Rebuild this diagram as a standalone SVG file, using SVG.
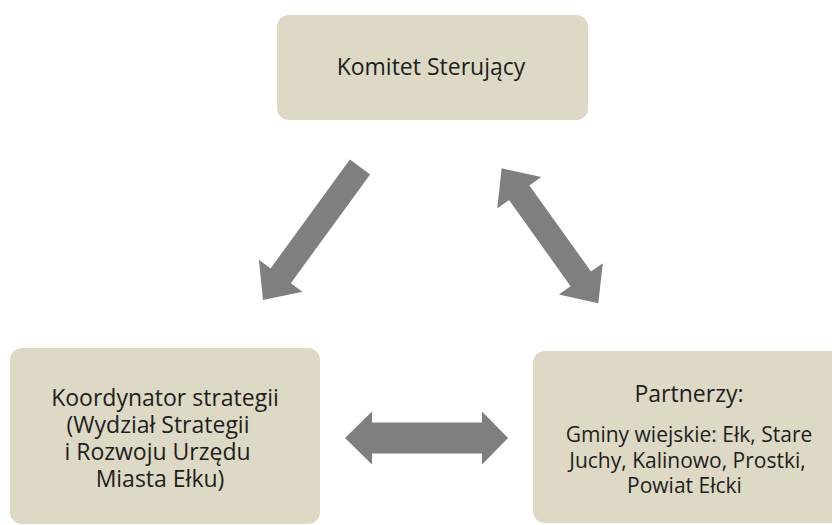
<svg xmlns="http://www.w3.org/2000/svg" width="832" height="525" viewBox="0 0 832 525">
<style>
.box{fill:#ddd9c4;}
.t{font-family:"Open Sans","Noto Sans",sans-serif;fill:#1e1e1e;text-anchor:middle;}
.arr{fill:#7f7f7f;}
</style>
<rect width="832" height="525" fill="#ffffff"/>
<g id="connectors">
<polygon class="arr" points="370.1,174.4 290.8,283.2 302.5,291.8 263,300 258.9,259.8 270.6,268.4 349.9,159.6"/>
<polygon class="arr" points="501.7,168.3 541.2,177 529.4,185.4 591,271.6 602.8,263.2 598.3,303.3 558.8,294.6 570.6,286.2 509,200 497.2,208.4"/>
<polygon class="arr" points="345,438 372,411.5 372,422.5 482,422.5 482,411.5 508,438 482,464.5 482,453.5 372,453.5 372,464.5"/>
</g>
<g id="komitet">
<rect class="box" x="277" y="15" width="311" height="105" rx="12"/>
<text class="t" x="431" y="75" font-size="23">Komitet Sterujący</text>
</g>
<g id="koordynator">
<rect class="box" x="10" y="348" width="310" height="176" rx="12"/>
<text class="t" font-size="23"><tspan x="165" y="406">Koordynator strategii</tspan><tspan x="158" y="433">(Wydział Strategii</tspan><tspan x="157.5" y="460">i Rozwoju Urzędu</tspan><tspan x="160" y="487">Miasta Ełku)</tspan></text>
</g>
<g id="partnerzy">
<rect class="box" x="533" y="351" width="312" height="172" rx="12"/>
<text class="t" x="689" y="402" font-size="23">Partnerzy:</text>
<text class="t" font-size="21"><tspan x="689" y="442">Gminy wiejskie: Ełk, Stare</tspan><tspan x="687.5" y="468">Juchy, Kalinowo, Prostki,</tspan><tspan x="684.5" y="493">Powiat Ełcki</tspan></text>
</g>
</svg>
